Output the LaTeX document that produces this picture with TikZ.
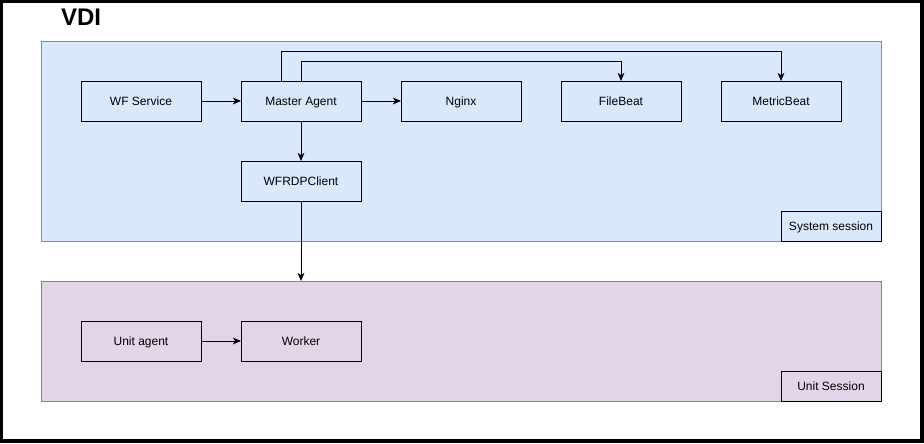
\documentclass[tikz,border=0pt]{standalone}
\usepackage{fontspec}
\setmainfont{Liberation Sans}
\usetikzlibrary{arrows.meta}
\definecolor{sysfill}{HTML}{DAE8FC}
\definecolor{sysdraw}{HTML}{6C8EBF}
\definecolor{unitfill}{HTML}{E1D5E7}
\definecolor{unitdraw}{HTML}{9673A6}
\begin{document}
\begin{tikzpicture}[x=0.75pt,y=-0.75pt,
  every node/.style={inner sep=0pt,outer sep=0pt},
  compbox/.style={draw=black,line width=0.75pt,minimum width=90pt,minimum height=30pt,text height=8pt,text depth=1.1pt,font=\fontsize{9pt}{11pt}\selectfont},
  labbox/.style={draw=black,line width=0.75pt,minimum width=75pt,minimum height=22.5pt,text height=8pt,text depth=1.1pt,font=\fontsize{9pt}{11pt}\selectfont},
  conn/.style={draw=black,line width=0.75pt,-{Stealth[length=6pt,width=5pt,inset=1.5pt]}}]
\useasboundingbox (0,0) rectangle (924,443);
\fill[black] (0,0) rectangle (924,443);
\fill[white] (3,3) rectangle (920,439);
\node[anchor=base west,font=\fontsize{18pt}{20pt}\selectfont\bfseries] (vdi) at (61,25) {VDI};
% containers
\node[draw=sysdraw,fill=sysfill,line width=0.75pt,minimum width=630pt,minimum height=150pt] (sys) at (461,141) {};
\node[draw=unitdraw,fill=unitfill,line width=0.75pt,minimum width=630pt,minimum height=90pt] (unit) at (461,341) {};
\node[labbox,fill=sysfill] (syslab) at (831,226) {System session};
\node[labbox,fill=unitfill] (unitlab) at (831,386) {Unit Session};
% components
\node[compbox] (wf) at (141,101) {WF Service};
\node[compbox] (ma) at (301,101) {Master Agent};
\node[compbox] (ngx) at (461,101) {Nginx};
\node[compbox] (fb) at (621,101) {FileBeat};
\node[compbox] (mb) at (781,101) {MetricBeat};
\node[compbox] (rdp) at (301,181) {WFRDPClient};
\node[compbox] (ua) at (141,341) {Unit agent};
\node[compbox] (wk) at (301,341) {Worker};
% connectors
\draw[conn] (wf) -- (ma);
\draw[conn] (ma) -- (ngx);
\draw[conn] (ma) -- (rdp);
\draw[conn] (rdp.south) -- (unit.north -| rdp.south);
\draw[conn] (ma.north -| 281,0) |- (mb.north |- 0,51) -- (mb.north);
\draw[conn] (ma.north) |- (fb.north |- 0,61) -- (fb.north);
\draw[conn] (ua) -- (wk);
\end{tikzpicture}
\end{document}
